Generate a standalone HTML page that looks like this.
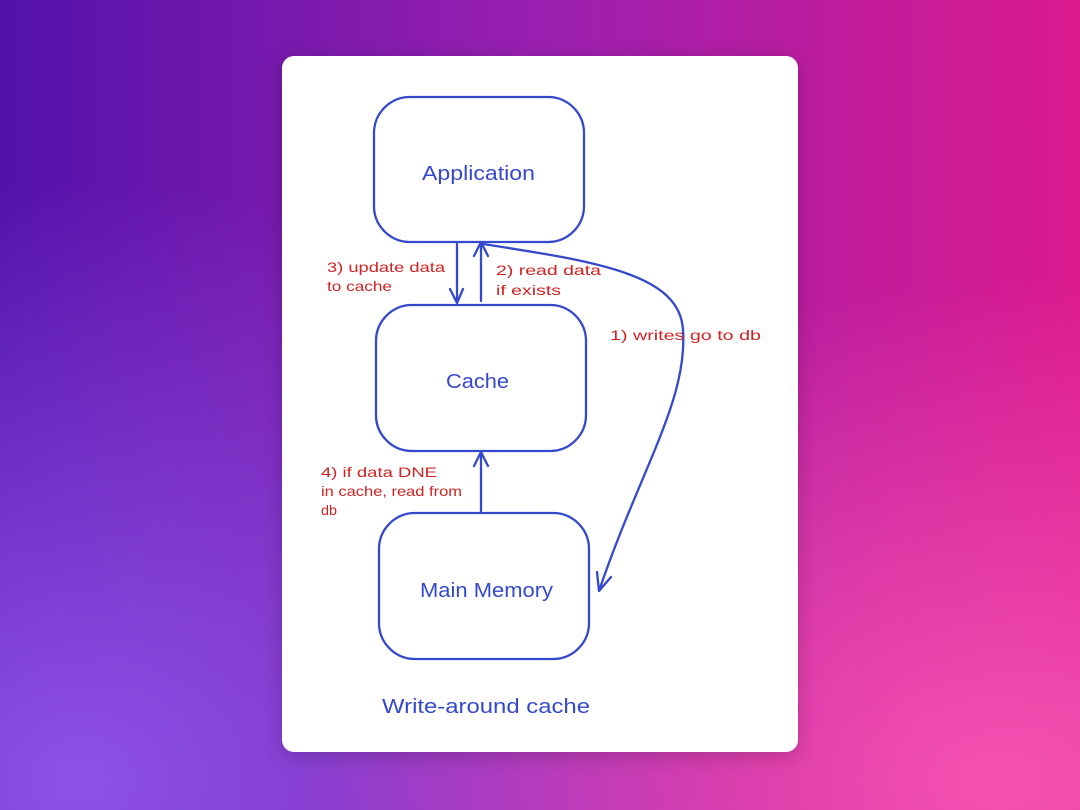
<!DOCTYPE html>
<html><head><style>
html,body{margin:0;padding:0;width:1080px;height:810px;overflow:hidden}
body{background:
radial-gradient(ellipse 700px 500px at 1000px 780px,#f452b2 0%,rgba(244,82,178,0) 100%),
radial-gradient(ellipse 700px 600px at 80px 780px,#8e52e6 0%,rgba(142,82,230,0) 100%),
linear-gradient(90deg,#5212aa 0%,#9a20b0 50%,#dc1a8e 100%);}
.card{position:absolute;left:282px;top:56px;width:516px;height:696px;background:#fff;border-radius:12px;box-shadow:0 4px 20px rgba(0,0,0,.2)}
svg{position:absolute;left:0;top:0}
</style></head><body>
<div class="card"></div>
<svg width="1080" height="810" font-family="'Comic Sans MS','Liberation Sans',sans-serif">
<g fill="none" stroke="#3549cc" stroke-width="2.3" stroke-linecap="round" stroke-linejoin="round">
<rect x="374" y="97" width="210" height="145" rx="36"/>
<rect x="376" y="305" width="210" height="146" rx="36"/>
<rect x="379" y="513" width="210" height="146" rx="36"/>
<path d="M457 244 L457 303 M450 289 L457 303 L463 289"/>
<path d="M481 301 L481 242 M474 256 L481 242 L488 256"/>
<path d="M481 511 L481 452 M474 466 L481 452 L488 466"/>
<path d="M483 244 C600 262 680 275 683 330 C688 400 640 470 599 591 M597 572 L599 591 L611 577"/>
</g>
<g fill="#3549cc" font-size="20">
<text x="422" y="180" textLength="113" lengthAdjust="spacingAndGlyphs">Application</text>
<text x="446" y="388" textLength="63" lengthAdjust="spacingAndGlyphs">Cache</text>
<text x="420" y="597" textLength="133" lengthAdjust="spacingAndGlyphs">Main Memory</text>
<text x="382" y="713" textLength="208" lengthAdjust="spacingAndGlyphs">Write-around cache</text>
</g>
<g fill="#d02424" font-size="14">
<text x="327" y="272" textLength="118" lengthAdjust="spacingAndGlyphs">3) update data</text>
<text x="327" y="291" textLength="65" lengthAdjust="spacingAndGlyphs">to cache</text>
<text x="496" y="275" textLength="105" lengthAdjust="spacingAndGlyphs">2) read data</text>
<text x="496" y="295" textLength="65" lengthAdjust="spacingAndGlyphs">if exists</text>
<text x="610" y="340" textLength="151" lengthAdjust="spacingAndGlyphs">1) writes go to db</text>
<text x="321" y="477" textLength="116" lengthAdjust="spacingAndGlyphs">4) if data DNE</text>
<text x="321" y="496" textLength="141" lengthAdjust="spacingAndGlyphs">in cache, read from</text>
<text x="321" y="515" textLength="16" lengthAdjust="spacingAndGlyphs">db</text>
</g>
</svg>
</body></html>
